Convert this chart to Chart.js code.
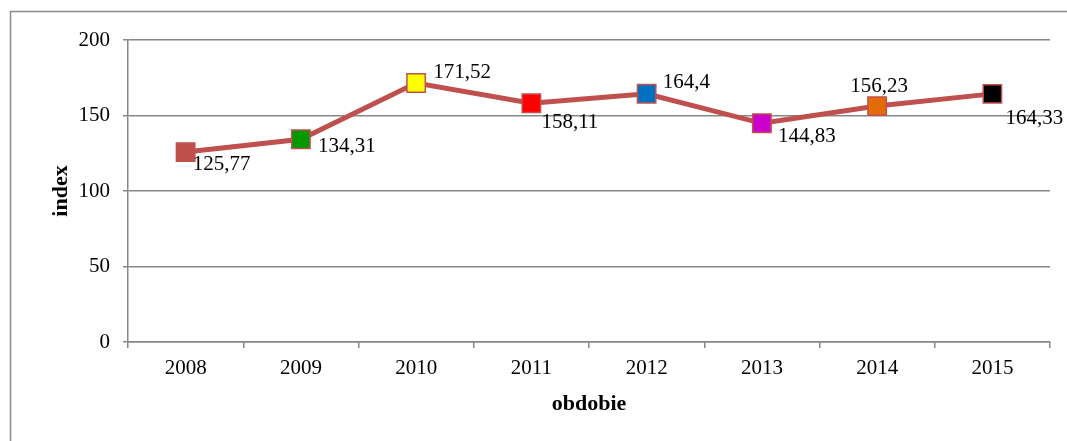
<!DOCTYPE html>
<html>
<head>
<meta charset="utf-8">
<script src="https://cdn.jsdelivr.net/npm/chart.js@4.4.0/dist/chart.umd.min.js"></script>
<style>
  html, body { margin: 0; padding: 0; background: #fff; }
  canvas { display: block; }
</style>
</head>
<body>
<canvas id="indexChart" width="1067" height="441"></canvas>
<script>
// years and index values
const years = ["2008", "2009", "2010", "2011", "2012", "2013", "2014", "2015"];
const indexValues = [125.77, 134.31, 171.52, 158.11, 164.4, 144.83, 156.23, 164.33];
const valueLabels = ["125,77", "134,31", "171,52", "158,11", "164,4", "144,83", "156,23", "164,33"];
const yTicks = [0, 50, 100, 150, 200];

// each marker has its own fill colour
const markerColors = ["#C0504D", "#009900", "#FFFF00", "#FF0000", "#0070C0", "#CC00CC", "#E36C09", "#000000"];

// where each value label sits relative to its point [dx, dy, align]
const labelPlace = [
    [7, 12, "left"], [17, 7, "left"], [17, -11, "left"], [10, 19, "left"],
    [16, -11, "left"], [16, 13, "left"], [2, -20, "center"], [13, 25, "left"]
];

const gridGray = "#868686";
const serif = "'Liberation Serif', 'Times New Roman', serif";

// gray frame around the whole chart
const framePlugin = {
    id: "frame",
    beforeDraw(chart) {
        const ctx = chart.ctx;
        ctx.save();
        ctx.strokeStyle = "#8c8c8c";
        ctx.lineWidth = 1.5;
        ctx.strokeRect(10.5, 11.5, 1200, 600);
        ctx.restore();
    }
};

// value labels next to the points
const valueLabelPlugin = {
    id: "valueLabels",
    afterDatasetsDraw(chart) {
        const ctx = chart.ctx;
        const meta = chart.getDatasetMeta(0);
        ctx.save();
        ctx.font = "21px " + serif;
        ctx.fillStyle = "#000";
        ctx.textBaseline = "middle";
        meta.data.forEach((pt, i) => {
            const p = labelPlace[i];
            ctx.textAlign = p[2];
            ctx.fillText(valueLabels[i], pt.x + p[0], pt.y + p[1]);
        });
        ctx.restore();
    }
};

new Chart(document.getElementById("indexChart"), {
    type: "line",
    data: {
        labels: years,
        datasets: [{
            label: "index",
            data: indexValues,
            borderColor: "#C0504D",
            borderWidth: 5,
            pointStyle: "rect",
            pointRadius: 13,
            pointHoverRadius: 13,
            pointBackgroundColor: markerColors,
            pointBorderColor: "#C0504D",
            pointBorderWidth: 1.5,
            tension: 0,
            fill: false
        }]
    },
    options: {
        responsive: false,
        animation: false,
        layout: { padding: { top: 40, right: 17, left: 0, bottom: 0 } },
        plugins: {
            legend: { display: false },
            tooltip: { enabled: false }
        },
        scales: {
            x: {
                offset: true,
                grid: {
                    offset: true,
                    drawOnChartArea: false,
                    drawTicks: true,
                    tickLength: 6,
                    color: gridGray,
                    lineWidth: 1.5
                },
                border: { display: true, color: gridGray, width: 1.5 },
                ticks: { color: "#000", font: { family: serif, size: 21 }, padding: 8, maxRotation: 0 },
                title: {
                    display: true,
                    text: "obdobie",
                    color: "#000",
                    font: { family: serif, size: 22, weight: "bold" },
                    padding: { top: 0, bottom: 23 }
                },
                afterFit(scale) { scale.height = 99; }
            },
            y: {
                min: 0,
                max: 200,
                afterBuildTicks(scale) { scale.ticks = yTicks.map(v => ({ value: v })); },
                grid: {
                    color: gridGray,
                    lineWidth: 1.5,
                    drawTicks: true,
                    tickLength: 5
                },
                border: { display: true, color: gridGray, width: 1.5 },
                ticks: { color: "#000", font: { family: serif, size: 21 }, padding: 13 },
                title: {
                    display: true,
                    text: "index",
                    color: "#000",
                    font: { family: serif, size: 22, weight: "bold" },
                    padding: { top: 48, bottom: 0 }
                },
                afterFit(scale) { scale.width = 128; }
            }
        }
    },
    plugins: [framePlugin, valueLabelPlugin]
});
</script>
</body>
</html>
